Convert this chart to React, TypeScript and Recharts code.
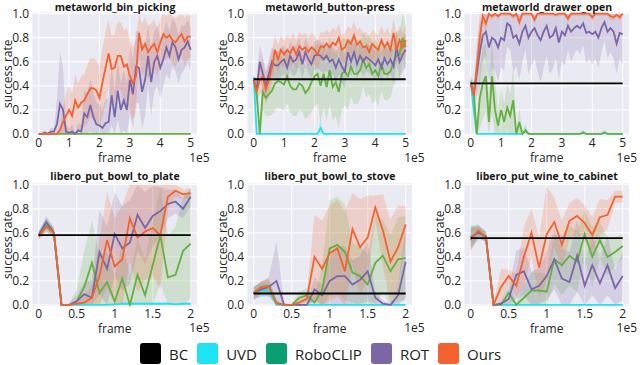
import { ComposedChart, Line, Area, XAxis, YAxis, CartesianGrid } from 'recharts'

// evaluation steps (x in units of 1e5 frames)
const STEPS_META = Array.from({ length: 51 }, (_, i) => i / 10)
const STEPS_LIBERO = Array.from({ length: 21 }, (_, i) => i / 10)
const TICKS_META = [0, 1, 2, 3, 4, 5]
const TICKS_LIBERO = [0, 0.5, 1, 1.5, 2]
const TICKS_Y = [0, 0.2, 0.4, 0.6, 0.8, 1.0]

// ---- metaworld_bin_picking
const BIN_CLIP = [0, 0, 0, 0, 0, 0, 0, 0, 0, 0, 0, 0, 0, 0, 0, 0, 0, 0, 0, 0, 0, 0, 0, 0, 0, 0, 0, 0, 0, 0, 0, 0, 0, 0, 0, 0, 0, 0, 0, 0, 0, 0, 0, 0, 0, 0, 0, 0, 0, 0, 0]
const BIN_CLIP_SD = [0, 0, 0, 0, 0, 0, 0, 0, 0, 0, 0, 0, 0, 0, 0, 0, 0, 0, 0, 0, 0, 0, 0, 0, 0, 0, 0, 0, 0, 0, 0, 0, 0, 0, 0, 0, 0, 0, 0, 0, 0, 0, 0, 0, 0, 0, 0, 0, 0, 0, 0]
const BIN_ROT = [0, 0, 0.01, 0, 0.02, 0.02, 0.08, 0.25, 0.2, 0.02, 0.01, 0.02, 0, 0.03, 0.02, 0.17, 0.14, 0.24, 0.14, 0.08, 0.07, 0.05, 0.09, 0.1, 0.32, 0.14, 0.36, 0.2, 0.28, 0.2, 0.45, 0.33, 0.56, 0.55, 0.35, 0.45, 0.65, 0.43, 0.6, 0.65, 0.55, 0.62, 0.72, 0.65, 0.76, 0.72, 0.62, 0.7, 0.72, 0.77, 0.7]
const BIN_ROT_SD = [0.01, 0.01, 0.02, 0.01, 0.03, 0.03, 0.2, 0.43, 0.35, 0.05, 0.04, 0.05, 0.03, 0.06, 0.05, 0.2, 0.2, 0.22, 0.2, 0.18, 0.18, 0.15, 0.2, 0.2, 0.25, 0.22, 0.25, 0.22, 0.25, 0.22, 0.3, 0.28, 0.3, 0.3, 0.3, 0.3, 0.25, 0.28, 0.25, 0.25, 0.25, 0.22, 0.22, 0.2, 0.2, 0.2, 0.2, 0.2, 0.18, 0.18, 0.18]
const BIN_OURS = [0, 0, 0, 0, 0, 0, 0, 0.03, 0.1, 0.15, 0.2, 0.15, 0.28, 0.22, 0.26, 0.28, 0.33, 0.38, 0.38, 0.36, 0.3, 0.43, 0.55, 0.67, 0.54, 0.55, 0.65, 0.65, 0.56, 0.58, 0.48, 0.42, 0.48, 0.84, 0.7, 0.75, 0.68, 0.72, 0.75, 0.68, 0.76, 0.83, 0.8, 0.82, 0.78, 0.76, 0.8, 0.83, 0.77, 0.81, 0.81]
const BIN_OURS_SD = [0, 0, 0, 0, 0, 0, 0, 0.04, 0.12, 0.18, 0.2, 0.18, 0.22, 0.2, 0.22, 0.22, 0.24, 0.25, 0.25, 0.25, 0.25, 0.28, 0.3, 0.28, 0.28, 0.28, 0.28, 0.28, 0.3, 0.3, 0.3, 0.3, 0.3, 0.18, 0.22, 0.22, 0.22, 0.2, 0.2, 0.2, 0.2, 0.18, 0.18, 0.18, 0.2, 0.2, 0.18, 0.18, 0.2, 0.18, 0.18]

// ---- metaworld_button-press
const BTN_BC = 0.455
const BTN_UVD = [0.47, 0, 0, 0, 0, 0, 0, 0, 0, 0, 0, 0, 0, 0, 0, 0, 0, 0, 0, 0, 0, 0, 0.05, 0, 0, 0, 0, 0, 0, 0, 0, 0, 0, 0, 0, 0, 0, 0, 0, 0, 0, 0, 0, 0, 0, 0, 0, 0, 0, 0, 0]
const BTN_UVD_SD = [0.03, 0, 0, 0, 0, 0, 0, 0, 0, 0, 0, 0, 0, 0, 0, 0, 0, 0, 0, 0, 0, 0, 0.08, 0, 0, 0, 0, 0, 0, 0, 0, 0, 0, 0, 0, 0, 0, 0, 0, 0, 0, 0, 0, 0, 0, 0, 0, 0, 0, 0, 0]
const BTN_CLIP = [0.45, 0.33, 0, 0.35, 0.3, 0.33, 0.36, 0.42, 0.44, 0.43, 0.41, 0.48, 0.4, 0.37, 0.37, 0.42, 0.4, 0.34, 0.37, 0.43, 0.48, 0.5, 0.4, 0.5, 0.39, 0.53, 0.39, 0.43, 0.35, 0.5, 0.52, 0.48, 0.56, 0.5, 0.5, 0.53, 0.62, 0.55, 0.58, 0.5, 0.53, 0.48, 0.58, 0.5, 0.5, 0.52, 0.6, 0.65, 0.66, 0.8, 0.72]
const BTN_CLIP_SD = [0.03, 0.12, 0.1, 0.15, 0.15, 0.18, 0.2, 0.22, 0.22, 0.22, 0.22, 0.22, 0.22, 0.22, 0.22, 0.22, 0.22, 0.22, 0.22, 0.25, 0.25, 0.25, 0.3, 0.28, 0.28, 0.28, 0.28, 0.28, 0.3, 0.3, 0.28, 0.28, 0.25, 0.25, 0.25, 0.25, 0.22, 0.25, 0.25, 0.25, 0.25, 0.25, 0.22, 0.22, 0.22, 0.22, 0.2, 0.2, 0.2, 0.2, 0.2]
const BTN_ROT = [0.45, 0.37, 0.6, 0.5, 0.4, 0.5, 0.6, 0.57, 0.57, 0.6, 0.62, 0.55, 0.65, 0.6, 0.62, 0.68, 0.58, 0.68, 0.62, 0.58, 0.65, 0.66, 0.65, 0.62, 0.65, 0.6, 0.62, 0.55, 0.62, 0.56, 0.52, 0.68, 0.6, 0.68, 0.58, 0.65, 0.6, 0.64, 0.62, 0.6, 0.57, 0.62, 0.55, 0.63, 0.58, 0.62, 0.56, 0.72, 0.6, 0.66, 0.7]
const BTN_ROT_SD = [0.03, 0.1, 0.14, 0.14, 0.12, 0.12, 0.12, 0.12, 0.12, 0.12, 0.12, 0.12, 0.12, 0.12, 0.12, 0.12, 0.12, 0.12, 0.12, 0.12, 0.12, 0.12, 0.12, 0.12, 0.12, 0.12, 0.12, 0.12, 0.12, 0.14, 0.14, 0.12, 0.12, 0.12, 0.12, 0.12, 0.12, 0.12, 0.12, 0.12, 0.12, 0.12, 0.12, 0.12, 0.12, 0.12, 0.14, 0.14, 0.14, 0.14, 0.14]
const BTN_OURS = [0.45, 0.35, 0.45, 0.48, 0.37, 0.45, 0.55, 0.7, 0.62, 0.7, 0.66, 0.7, 0.67, 0.72, 0.66, 0.73, 0.7, 0.72, 0.68, 0.72, 0.7, 0.66, 0.73, 0.72, 0.75, 0.72, 0.76, 0.74, 0.8, 0.7, 0.72, 0.78, 0.75, 0.82, 0.74, 0.77, 0.72, 0.73, 0.68, 0.75, 0.72, 0.7, 0.78, 0.72, 0.76, 0.7, 0.84, 0.7, 0.78, 0.72, 0.78]
const BTN_OURS_SD = [0.03, 0.1, 0.12, 0.14, 0.12, 0.14, 0.14, 0.12, 0.12, 0.12, 0.12, 0.12, 0.12, 0.12, 0.12, 0.12, 0.12, 0.12, 0.12, 0.12, 0.12, 0.12, 0.12, 0.12, 0.12, 0.12, 0.12, 0.12, 0.12, 0.12, 0.12, 0.12, 0.12, 0.12, 0.12, 0.12, 0.12, 0.12, 0.12, 0.12, 0.12, 0.12, 0.12, 0.12, 0.12, 0.12, 0.12, 0.12, 0.12, 0.12, 0.12]

// ---- metaworld_drawer_open
const DRW_BC = 0.42
const DRW_UVD = [0.44, 0.2, 0, 0, 0, 0, 0, 0, 0, 0, 0, 0, 0, 0, 0, 0, 0, 0, 0.03, 0, 0, 0, 0, 0, 0, 0, 0, 0, 0, 0, 0, 0, 0, 0, 0, 0, 0, 0.01, 0, 0, 0, 0, 0, 0, 0.01, 0, 0, 0, 0, 0, 0]
const DRW_UVD_SD = [0.06, 0.1, 0, 0, 0, 0, 0, 0, 0, 0, 0, 0, 0, 0, 0, 0, 0, 0, 0.04, 0, 0, 0, 0, 0, 0, 0, 0, 0, 0, 0, 0, 0, 0, 0, 0, 0, 0, 0.02, 0, 0, 0, 0, 0, 0, 0.02, 0, 0, 0, 0, 0, 0]
const DRW_CLIP = [0.43, 0.35, 0, 0.3, 0.42, 0.48, 0.1, 0.48, 0.2, 0.07, 0.2, 0.1, 0.22, 0.15, 0.28, 0, 0.1, 0, 0.03, 0, 0, 0, 0, 0, 0, 0, 0, 0, 0, 0, 0, 0, 0, 0, 0, 0, 0, 0.01, 0, 0, 0, 0, 0, 0, 0.01, 0, 0, 0, 0, 0, 0]
const DRW_CLIP_SD = [0.05, 0.1, 0.05, 0.25, 0.3, 0.28, 0.2, 0.3, 0.25, 0.12, 0.2, 0.15, 0.2, 0.18, 0.28, 0.02, 0.12, 0.02, 0.05, 0.01, 0, 0, 0, 0, 0, 0, 0, 0, 0, 0, 0, 0, 0, 0, 0, 0, 0, 0.03, 0, 0, 0, 0, 0, 0, 0.03, 0, 0, 0, 0, 0, 0]
const DRW_ROT = [0.42, 0.33, 0.5, 0.68, 0.82, 0.85, 0.72, 0.8, 0.78, 0.72, 0.8, 0.78, 0.92, 0.9, 0.8, 0.82, 0.75, 0.85, 0.9, 0.8, 0.85, 0.88, 0.82, 0.78, 0.85, 0.9, 0.8, 0.82, 0.88, 0.76, 0.85, 0.82, 0.9, 0.85, 0.88, 0.9, 0.88, 0.92, 0.84, 0.85, 0.83, 0.85, 0.8, 0.88, 0.93, 0.85, 0.88, 0.85, 0.75, 0.84, 0.83]
const DRW_ROT_SD = [0.05, 0.08, 0.2, 0.25, 0.2, 0.2, 0.28, 0.25, 0.25, 0.28, 0.25, 0.25, 0.2, 0.2, 0.28, 0.25, 0.3, 0.25, 0.2, 0.3, 0.28, 0.25, 0.3, 0.35, 0.3, 0.25, 0.3, 0.28, 0.25, 0.3, 0.25, 0.25, 0.2, 0.25, 0.22, 0.2, 0.22, 0.18, 0.25, 0.22, 0.25, 0.22, 0.25, 0.2, 0.15, 0.22, 0.2, 0.22, 0.25, 0.22, 0.25]
const DRW_OURS = [0.42, 0.32, 0.55, 0.8, 0.98, 0.92, 1, 0.98, 1, 0.98, 1, 1, 1, 1, 0.98, 1, 0.93, 1, 1, 1, 1, 0.95, 1, 1, 1, 1, 1, 1, 0.99, 1, 1, 1, 0.96, 1, 1, 1, 1, 1, 1, 1, 0.97, 1, 1, 1, 1, 1, 0.98, 0.97, 0.99, 0.97, 1]
const DRW_OURS_SD = [0.03, 0.06, 0.2, 0.2, 0.05, 0.08, 0.02, 0.03, 0.02, 0.03, 0.02, 0.02, 0.02, 0.02, 0.03, 0.02, 0.05, 0.02, 0.02, 0.02, 0.02, 0.04, 0.02, 0.02, 0.02, 0.02, 0.02, 0.02, 0.02, 0.02, 0.02, 0.02, 0.04, 0.02, 0.02, 0.02, 0.02, 0.02, 0.02, 0.02, 0.03, 0.02, 0.02, 0.02, 0.02, 0.02, 0.03, 0.03, 0.02, 0.03, 0.02]

// ---- libero_put_bowl_to_plate
const PLATE_BC = 0.58
const PLATE_UVD = [0.58, 0.66, 0.6, 0, 0, 0, 0, 0, 0, 0, 0.005, 0.01, 0.01, 0.01, 0.01, 0.01, 0.01, 0.01, 0.005, 0.01, 0.01]
const PLATE_UVD_SD = [0.03, 0.06, 0.04, 0, 0, 0, 0, 0, 0, 0, 0.01, 0.01, 0.01, 0.01, 0.01, 0.01, 0.01, 0.01, 0.01, 0.01, 0.01]
const PLATE_CLIP = [0.58, 0.67, 0.6, 0, 0, 0.03, 0.15, 0.35, 0.1, 0.19, 0.03, 0.22, 0, 0.25, 0.08, 0.33, 0.58, 0.23, 0.25, 0.45, 0.51]
const PLATE_CLIP_SD = [0.03, 0.05, 0.04, 0, 0.01, 0.1, 0.3, 0.35, 0.3, 0.25, 0.2, 0.3, 0.25, 0.3, 0.3, 0.35, 0.4, 0.35, 0.4, 0.45, 0.45]
const PLATE_ROT = [0.58, 0.69, 0.6, 0, 0, 0.03, 0.09, 0.06, 0.44, 0.3, 0.59, 0.47, 0.52, 0.75, 0.64, 0.74, 0.78, 0.84, 0.86, 0.8, 0.9]
const PLATE_ROT_SD = [0.03, 0.05, 0.04, 0, 0.01, 0.05, 0.1, 0.15, 0.35, 0.35, 0.35, 0.35, 0.35, 0.3, 0.3, 0.25, 0.2, 0.12, 0.1, 0.08, 0.08]
const PLATE_OURS = [0.57, 0.65, 0.6, 0, 0, 0.01, 0.02, 0.06, 0.24, 0.54, 0.32, 0.38, 0.72, 0.56, 0.61, 0.64, 0.58, 0.9, 0.95, 0.92, 0.93]
const PLATE_OURS_SD = [0.03, 0.04, 0.04, 0, 0, 0.02, 0.05, 0.1, 0.3, 0.4, 0.4, 0.45, 0.35, 0.45, 0.4, 0.4, 0.45, 0.1, 0.05, 0.04, 0.04]

// ---- libero_put_bowl_to_stove
const STOVE_BC = 0.095
const STOVE_UVD = [0.1, 0.12, 0.12, 0, 0, 0, 0, 0, 0, 0, 0, 0, 0, 0, 0, 0, 0, 0, 0, 0, 0]
const STOVE_UVD_SD = [0.06, 0.05, 0.05, 0, 0, 0, 0, 0, 0, 0, 0, 0, 0, 0, 0, 0, 0, 0, 0, 0, 0]
const STOVE_CLIP = [0.1, 0.15, 0.16, 0.02, 0, 0, 0.06, 0.08, 0.02, 0.12, 0.47, 0.5, 0.44, 0.27, 0.24, 0.17, 0.35, 0.41, 0.28, 0.38, 0.39]
const STOVE_CLIP_SD = [0.05, 0.05, 0.06, 0.02, 0, 0.01, 0.05, 0.06, 0.05, 0.2, 0.4, 0.4, 0.4, 0.25, 0.25, 0.25, 0.4, 0.3, 0.3, 0.35, 0.35]
const STOVE_ROT = [0.1, 0.13, 0.15, 0.2, 0, 0, 0, 0, 0.13, 0.08, 0.2, 0.24, 0.24, 0.17, 0.21, 0.28, 0.06, 0.01, 0, 0.08, 0.36]
const STOVE_ROT_SD = [0.05, 0.06, 0.08, 0.33, 0.02, 0, 0, 0.01, 0.1, 0.08, 0.2, 0.25, 0.25, 0.2, 0.2, 0.25, 0.05, 0.02, 0.01, 0.08, 0.3]
const STOVE_OURS = [0.09, 0.15, 0.15, 0.01, 0, 0, 0.02, 0.05, 0.4, 0.3, 0.43, 0.47, 0.28, 0.63, 0.48, 0.56, 0.81, 0.62, 0.36, 0.48, 0.67]
const STOVE_OURS_SD = [0.05, 0.05, 0.06, 0.02, 0, 0, 0.03, 0.05, 0.35, 0.4, 0.4, 0.4, 0.5, 0.3, 0.4, 0.35, 0.1, 0.3, 0.35, 0.35, 0.15]

// ---- libero_put_wine_to_cabinet
const WINE_BC = 0.555
const WINE_UVD = [0.56, 0.6, 0.57, 0, 0, 0, 0, 0, 0, 0, 0, 0, 0, 0, 0, 0, 0, 0, 0, 0, 0]
const WINE_UVD_SD = [0.1, 0.06, 0.04, 0, 0, 0, 0, 0, 0, 0, 0, 0, 0, 0, 0, 0, 0, 0, 0, 0, 0]
const WINE_CLIP = [0.56, 0.61, 0.57, 0, 0, 0.1, 0, 0.06, 0.12, 0.12, 0.11, 0.38, 0.33, 0.41, 0.36, 0.59, 0.4, 0.54, 0.4, 0.44, 0.49]
const WINE_CLIP_SD = [0.1, 0.05, 0.04, 0, 0.02, 0.1, 0.02, 0.1, 0.15, 0.15, 0.15, 0.2, 0.25, 0.25, 0.25, 0.2, 0.25, 0.15, 0.15, 0.12, 0.1]
const WINE_ROT = [0.56, 0.6, 0.57, 0, 0.01, 0.05, 0.25, 0.28, 0.13, 0.16, 0.24, 0.38, 0.22, 0.19, 0.41, 0.16, 0.33, 0.18, 0.33, 0.14, 0.24]
const WINE_ROT_SD = [0.08, 0.05, 0.04, 0, 0.02, 0.08, 0.2, 0.2, 0.15, 0.15, 0.2, 0.25, 0.25, 0.25, 0.3, 0.2, 0.25, 0.2, 0.25, 0.15, 0.2]
const WINE_OURS = [0.54, 0.62, 0.56, 0, 0.15, 0.24, 0.16, 0.4, 0.6, 0.31, 0.59, 0.69, 0.5, 0.7, 0.74, 0.68, 0.58, 0.73, 0.75, 0.9, 0.9]
const WINE_OURS_SD = [0.1, 0.05, 0.04, 0.01, 0.15, 0.05, 0.1, 0.25, 0.2, 0.25, 0.4, 0.2, 0.2, 0.15, 0.15, 0.15, 0.15, 0.15, 0.12, 0.05, 0.05]

const C_UVD = '#1ee3f5'
const C_CLIP = '#64b040'
const C_ROT = '#7b66a6'
const C_OURS = '#f4632e'

const LEGEND: [string, string][] = [
  ['BC', '#000000'],
  ['UVD', C_UVD],
  ['RoboCLIP', '#0a9f73'],
  ['ROT', C_ROT],
  ['Ours', C_OURS],
]

const FONT = "'Open Sans', 'DejaVu Sans', sans-serif"

// plot geometry
const PW = 165.4
const PH = 123.4
const YW = 32
const XH = 32
const MT = 8
const MR = 16
const COLS = [32.3, 247.3, 464.3]
const ROWS = [12.3, 182.8]

interface Series {
  key: string
  mean: number[]
  sd: number[]
  color: string
}

interface Panel {
  title: string
  steps: number[]
  ticks: number[]
  xmax: number
  bc?: number
  series: Series[]
  col: number
  row: number
}

const PANELS: Panel[] = [
  {
    title: 'metaworld_bin_picking', steps: STEPS_META, ticks: TICKS_META, xmax: 5, col: 0, row: 0,
    series: [
      { key: 'clip', mean: BIN_CLIP, sd: BIN_CLIP_SD, color: C_CLIP },
      { key: 'rot', mean: BIN_ROT, sd: BIN_ROT_SD, color: C_ROT },
      { key: 'ours', mean: BIN_OURS, sd: BIN_OURS_SD, color: C_OURS },
    ],
  },
  {
    title: 'metaworld_button-press', steps: STEPS_META, ticks: TICKS_META, xmax: 5, col: 1, row: 0, bc: BTN_BC,
    series: [
      { key: 'uvd', mean: BTN_UVD, sd: BTN_UVD_SD, color: C_UVD },
      { key: 'clip', mean: BTN_CLIP, sd: BTN_CLIP_SD, color: C_CLIP },
      { key: 'rot', mean: BTN_ROT, sd: BTN_ROT_SD, color: C_ROT },
      { key: 'ours', mean: BTN_OURS, sd: BTN_OURS_SD, color: C_OURS },
    ],
  },
  {
    title: 'metaworld_drawer_open', steps: STEPS_META, ticks: TICKS_META, xmax: 5, col: 2, row: 0, bc: DRW_BC,
    series: [
      { key: 'uvd', mean: DRW_UVD, sd: DRW_UVD_SD, color: C_UVD },
      { key: 'clip', mean: DRW_CLIP, sd: DRW_CLIP_SD, color: C_CLIP },
      { key: 'rot', mean: DRW_ROT, sd: DRW_ROT_SD, color: C_ROT },
      { key: 'ours', mean: DRW_OURS, sd: DRW_OURS_SD, color: C_OURS },
    ],
  },
  {
    title: 'libero_put_bowl_to_plate', steps: STEPS_LIBERO, ticks: TICKS_LIBERO, xmax: 2, col: 0, row: 1, bc: PLATE_BC,
    series: [
      { key: 'uvd', mean: PLATE_UVD, sd: PLATE_UVD_SD, color: C_UVD },
      { key: 'clip', mean: PLATE_CLIP, sd: PLATE_CLIP_SD, color: C_CLIP },
      { key: 'rot', mean: PLATE_ROT, sd: PLATE_ROT_SD, color: C_ROT },
      { key: 'ours', mean: PLATE_OURS, sd: PLATE_OURS_SD, color: C_OURS },
    ],
  },
  {
    title: 'libero_put_bowl_to_stove', steps: STEPS_LIBERO, ticks: TICKS_LIBERO, xmax: 2, col: 1, row: 1, bc: STOVE_BC,
    series: [
      { key: 'uvd', mean: STOVE_UVD, sd: STOVE_UVD_SD, color: C_UVD },
      { key: 'clip', mean: STOVE_CLIP, sd: STOVE_CLIP_SD, color: C_CLIP },
      { key: 'rot', mean: STOVE_ROT, sd: STOVE_ROT_SD, color: C_ROT },
      { key: 'ours', mean: STOVE_OURS, sd: STOVE_OURS_SD, color: C_OURS },
    ],
  },
  {
    title: 'libero_put_wine_to_cabinet', steps: STEPS_LIBERO, ticks: TICKS_LIBERO, xmax: 2, col: 2, row: 1, bc: WINE_BC,
    series: [
      { key: 'uvd', mean: WINE_UVD, sd: WINE_UVD_SD, color: C_UVD },
      { key: 'clip', mean: WINE_CLIP, sd: WINE_CLIP_SD, color: C_CLIP },
      { key: 'rot', mean: WINE_ROT, sd: WINE_ROT_SD, color: C_ROT },
      { key: 'ours', mean: WINE_OURS, sd: WINE_OURS_SD, color: C_OURS },
    ],
  },
]

function buildRows(p: Panel) {
  return p.steps.map((x, i) => {
    const row: Record<string, number | number[]> = { x }
    if (p.bc !== undefined) row.bc = p.bc
    p.series.forEach((s) => {
      row[s.key] = s.mean[i]
      row[s.key + 'Band'] = [Math.max(0, s.mean[i] - s.sd[i]), Math.min(1, s.mean[i] + s.sd[i])]
    })
    return row
  })
}

const tickStyle = { fill: '#262626', fontSize: 12, fontFamily: FONT }

function PanelChart({ p }: { p: Panel }) {
  const data = buildRows(p)
  const left = COLS[p.col]
  const top = ROWS[p.row]
  const pad = p.xmax * 0.044
  const titleTop = Math.max(0, top - 14.3)
  const offsetRight = Math.min(left + PW + 12, 637)
  return (
    <>
      <div style={{ position: 'absolute', left: left - YW, top: top - MT }}>
        <ComposedChart
          width={YW + PW + MR}
          height={MT + PH + XH}
          data={data}
          margin={{ top: MT, right: MR, left: 0, bottom: 0 }}
        >
          <CartesianGrid fill="#eaeaf2" stroke="#ffffff" strokeWidth={1} />
          <XAxis
            dataKey="x"
            type="number"
            domain={[-pad, p.xmax + pad]}
            ticks={p.ticks}
            allowDataOverflow
            axisLine={false}
            tickLine={false}
            tickSize={2}
            tickMargin={1}
            height={XH}
            tick={tickStyle}
            tickFormatter={(v: number) => String(v)}
            label={{ value: 'frame', position: 'insideBottom', offset: 5, fill: '#262626', fontSize: 12, fontFamily: FONT }}
          />
          <YAxis
            type="number"
            domain={[-0.012, 1.014]}
            ticks={TICKS_Y}
            allowDataOverflow
            axisLine={false}
            tickLine={false}
            tickSize={1}
            tickMargin={2}
            width={YW}
            tick={tickStyle}
            tickFormatter={(v: number) => v.toFixed(1)}
            label={{
              value: 'success rate', angle: -90, position: 'insideLeft', offset: 8,
              fill: '#262626', fontSize: 12, fontFamily: FONT, style: { textAnchor: 'middle' },
            }}
          />
          {p.series.map((s) => (
            <Area
              key={s.key + 'Band'}
              dataKey={s.key + 'Band'}
              type="linear"
              stroke="none"
              fill={s.color}
              fillOpacity={0.2}
              isAnimationActive={false}
              activeDot={false}
            />
          ))}
          {p.series.map((s) => (
            <Line
              key={s.key}
              dataKey={s.key}
              type="linear"
              stroke={s.color}
              strokeWidth={1.8}
              dot={false}
              activeDot={false}
              isAnimationActive={false}
            />
          ))}
          {p.bc !== undefined && (
            <Line dataKey="bc" type="linear" stroke="#000000" strokeWidth={1.8} dot={false} activeDot={false} isAnimationActive={false} />
          )}
        </ComposedChart>
      </div>
      <div
        style={{
          position: 'absolute', left, top: titleTop, width: PW, height: 14, lineHeight: '14px',
          textAlign: 'center', fontWeight: 'bold', fontSize: 10.5, fontFamily: FONT, color: '#1a1a1a',
          whiteSpace: 'nowrap', zIndex: 2,
        }}
      >
        {p.title}
      </div>
      <div
        style={{
          position: 'absolute', left: offsetRight - 24, top: top + PH + 15, width: 24, textAlign: 'right',
          fontSize: 12, lineHeight: '13px', fontFamily: FONT, color: '#262626',
        }}
      >
        1e5
      </div>
    </>
  )
}

export default function App() {
  return (
    <div style={{ position: 'absolute', left: 0, top: 0, width: 640, height: 365, background: '#ffffff', overflow: 'hidden' }}>
      {PANELS.map((p) => (
        <PanelChart key={p.title} p={p} />
      ))}
      <div style={{ position: 'absolute', left: 140, top: 343, height: 21, display: 'flex', alignItems: 'center', fontFamily: FONT }}>
        {LEGEND.map(([name, color]) => (
          <span key={name} style={{ display: 'flex', alignItems: 'center', marginRight: 9 }}>
            <span style={{ width: 21, height: 21, borderRadius: 3, background: color, display: 'inline-block', marginRight: 8 }} />
            <span style={{ fontSize: 15, color: '#222' }}>{name}</span>
          </span>
        ))}
      </div>
    </div>
  )
}
